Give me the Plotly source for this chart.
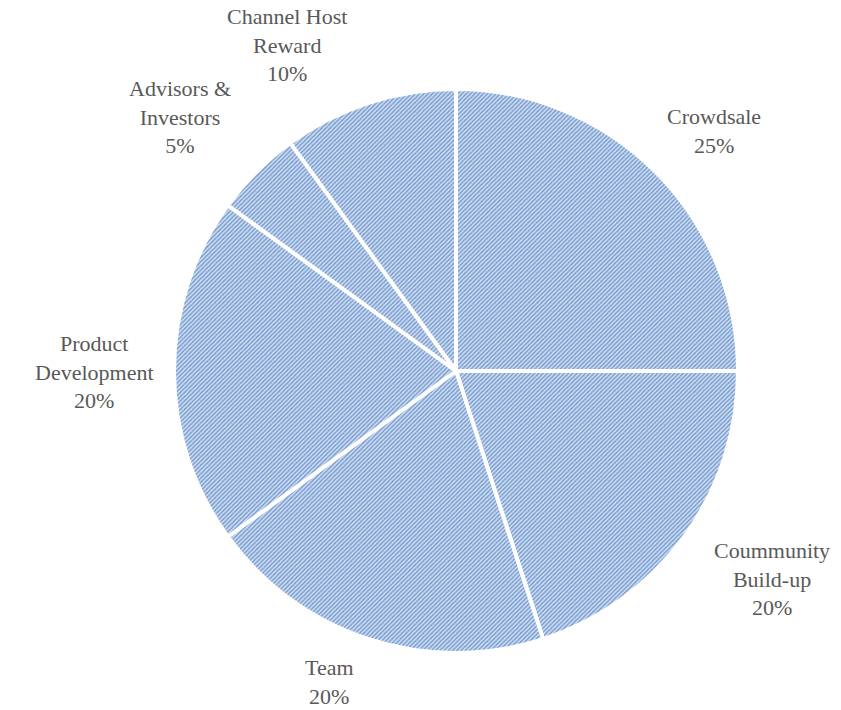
import plotly.graph_objects as go

labels = ["Crowdsale", "Coummunity<br>Build-up", "Team", "Product<br>Development",
          "Advisors &<br>Investors", "Channel Host<br>Reward"]
values = [25, 20, 20, 20, 5, 10]

W, H = 841, 710
cx, cy, R = 456, 339, 282  # pie centre (px from bottom-left) and radius

# outside-label centres, as pixel offsets from the pie centre (layout only)
label_offsets = [(258, 240), (316, -208), (-127, -311), (-362, -1), (-276, 254), (-169, 326)]

fig = go.Figure(go.Pie(
    labels=labels, values=values, sort=False, direction="clockwise", rotation=0,
    textinfo="none", hoverinfo="label+percent",
    marker=dict(
        colors=["#a9c0e2"] * len(values),
        line=dict(color="white", width=4),
        pattern=dict(shape="/", fgcolor="#7099d0", bgcolor="#d2def0", size=3, solidity=0.45),
    ),
    domain=dict(x=[(cx - R) / W, (cx + R) / W], y=[(cy - R) / H, (cy + R) / H]),
    showlegend=False,
))

total = sum(values)
annotations = []
for lab, v, (dx, dy) in zip(labels, values, label_offsets):
    annotations.append(dict(
        x=(cx + dx) / W, y=(cy + dy) / H, xref="paper", yref="paper",
        xanchor="center", yanchor="middle",
        text=f"{lab}<br>{round(v / total * 100)}%", showarrow=False, align="center",
        font=dict(family="Liberation Serif", size=22, color="#595959"),
    ))

fig.update_layout(
    width=W, height=H, margin=dict(l=0, r=0, t=0, b=0),
    paper_bgcolor="white", plot_bgcolor="white",
    annotations=annotations,
)
fig.write_html("out.html")
